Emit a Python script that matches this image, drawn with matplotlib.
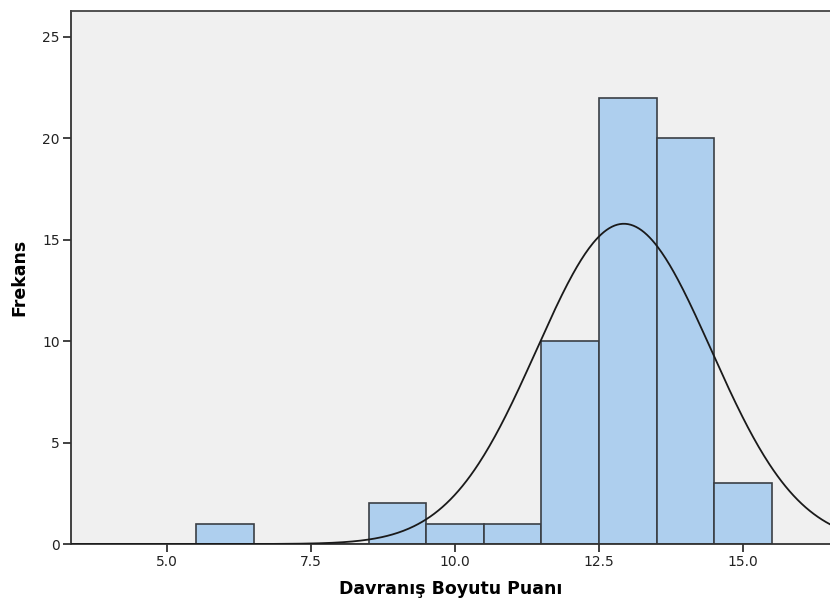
import numpy as np
import matplotlib
matplotlib.use("Agg")
import matplotlib.pyplot as plt

bin_edges = [5.5, 6.5, 7.5, 8.5, 9.5, 10.5, 11.5, 12.5, 13.5, 14.5, 15.5]
counts = [1, 0, 0, 2, 1, 1, 10, 22, 20, 3]
mean_val = 12.93
sd_val = 1.516
n_total = sum(counts)
x_ticks = [5.0, 7.5, 10.0, 12.5, 15.0]
y_ticks = [0, 5, 10, 15, 20, 25]

fig = plt.figure(figsize=(8.3, 6.06), dpi=100)
ax = fig.add_axes([71/830, 62/606, 759/830, 533/606])
ax.set_facecolor("#F0F0F0")

widths = np.diff(bin_edges)
lefts = np.array(bin_edges[:-1])
ax.bar(lefts, counts, width=widths, align="edge", color="#AECFEE",
       edgecolor="#3a3f45", linewidth=1.2, zorder=2)

xs = np.linspace(3.0, 17.0, 600)
bw = 1.0
ys = n_total * bw / (sd_val * np.sqrt(2 * np.pi)) * np.exp(-0.5 * ((xs - mean_val) / sd_val) ** 2)
ax.plot(xs, ys, color="#1a1a1a", linewidth=1.3, zorder=3)

ax.set_xlim(3.33, 16.51)
ax.set_ylim(0, 26.28)
ax.set_xticks(x_ticks)
ax.set_xticklabels([f"{v:.1f}" for v in x_ticks])
ax.set_yticks(y_ticks)
ax.tick_params(direction="out", length=6, width=1.3, color="#333333",
               labelsize=10, labelcolor="#222222", pad=2)
for s in ["left", "bottom", "top"]:
    ax.spines[s].set_linewidth(1.3)
    ax.spines[s].set_color("#333333")
ax.spines["right"].set_visible(False)
ax.spines["top"].set_color("#444444")

ax.set_xlabel("Davranış Boyutu Puanı", fontsize=12.5, fontweight="bold", labelpad=8)
ax.set_ylabel("Frekans", fontsize=12.5, fontweight="bold", labelpad=10)

fig.savefig("out.png", dpi=100)
